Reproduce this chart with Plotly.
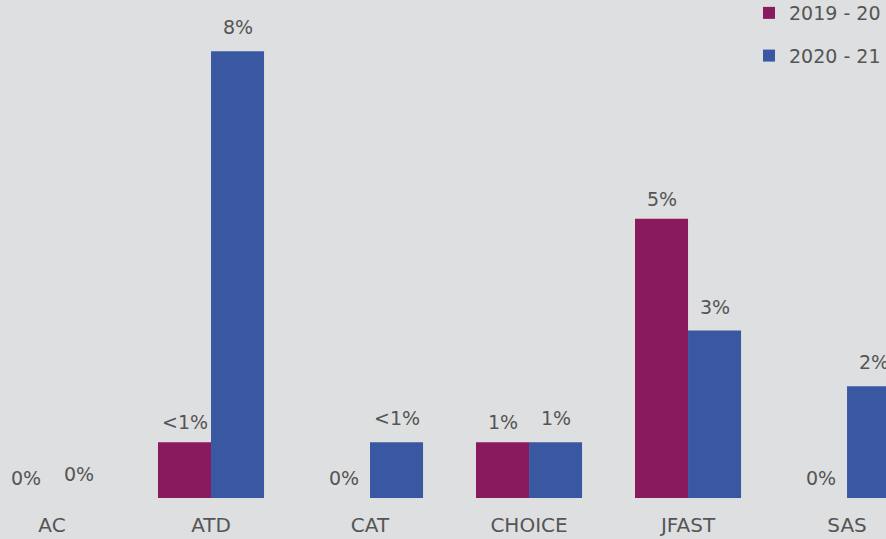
import plotly.graph_objects as go

categories = ["AC", "ATD", "CAT", "CHOICE", "JFAST", "SAS"]
series_names = ["2019 - 20", "2020 - 21"]
values_1920 = [0, 1, 0, 1, 5, 0]
values_2021 = [0, 8, 1, 1, 3, 2]
labels_1920 = ["0%", "<1%", "0%", "1%", "5%", "0%"]
labels_2021 = ["0%", "8%", "<1%", "1%", "3%", "2%"]

colors = ["#8A1A5E", "#3A57A1"]
bg = "#DEDFE0"
text_color = "#555555"
font_family = "DejaVu Sans"

fig = go.Figure()
for name, vals, col, grp in [(series_names[0], values_1920, colors[0], "a"),
                             (series_names[1], values_2021, colors[1], "b")]:
    fig.add_trace(go.Bar(
        x=categories, y=vals, name=name, legendgroup=grp,
        marker=dict(color=col, line=dict(width=0)),
        hoverinfo="x+y",
    ))

annotations = []
for labels, vals, xs, ys in [(labels_1920, values_1920, -26.5, 20),
                             (labels_2021, values_2021, 26.5, 24)]:
    for c, v, t in zip(categories, vals, labels):
        annotations.append(dict(
            x=c, y=v, text=t, showarrow=False, xshift=xs, yshift=ys,
            font=dict(family=font_family, size=19, color=text_color),
            xanchor="center", yanchor="middle",
        ))

fig.update_layout(
    width=886, height=539,
    margin=dict(l=0, r=0, t=0, b=41, autoexpand=False),
    paper_bgcolor=bg, plot_bgcolor=bg,
    barmode="group", bargap=0.333, bargroupgap=0,
    font=dict(family=font_family, color=text_color),
    showlegend=True,
    legend=dict(
        x=749 / 886, xanchor="left", y=1.012, yanchor="top",
        bgcolor="rgba(0,0,0,0)", font=dict(size=19, color=text_color),
        tracegroupgap=15, traceorder="grouped",
    ),
    annotations=annotations,
    xaxis=dict(
        range=[-0.327, 5.245], showgrid=False, zeroline=False, showline=False,
        ticks="outside", ticklen=9, tickcolor=bg,
        tickfont=dict(family=font_family, size=20, color=text_color),
        fixedrange=True,
    ),
    yaxis=dict(
        range=[0, 8.92], showgrid=False, zeroline=False, showline=False,
        showticklabels=False, fixedrange=True,
    ),
)

fig.write_html(
    "out.html",
    config={"displayModeBar": False},
    post_script="document.body.style.margin='0';document.body.style.overflow='hidden';",
)
